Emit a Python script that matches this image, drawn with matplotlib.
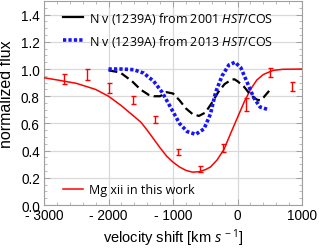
import matplotlib
matplotlib.use("Agg")
import matplotlib.pyplot as plt
from matplotlib.lines import Line2D
from matplotlib.ticker import FixedLocator, FixedFormatter, MultipleLocator

# -----------------------
# data
v_cos2001 = [-2000, -1820, -1635, -1506, -1377, -1300, -1200, -1100, -1000, -900,
             -800, -700, -600, -500, -400, -300, -200, -100, -50, 0, 100, 200, 300, 350, 400, 490]
f_cos2001 = [0.99, 0.975, 0.91, 0.85, 0.81, 0.80, 0.80, 0.83, 0.82, 0.77,
             0.71, 0.67, 0.655, 0.68, 0.75, 0.83, 0.89, 0.92, 0.925, 0.91, 0.87, 0.81, 0.775, 0.77, 0.79, 0.84]

v_cos2013 = [-2000, -1800, -1610, -1455, -1300, -1170, -1040, -900, -780, -650,
             -520, -420, -340, -240, -135, -40, 50, 150, 250, 350, 490]
f_cos2013 = [1.0, 1.0, 0.995, 0.97, 0.91, 0.83, 0.72, 0.60, 0.54, 0.52,
             0.56, 0.67, 0.83, 0.95, 1.03, 1.05, 1.01, 0.90, 0.79, 0.72, 0.70]

v_model = [-3050, -2800, -2500, -2200, -2000, -1800, -1650, -1500, -1400, -1300,
           -1200, -1100, -1000, -900, -800, -700, -600, -500, -420, -320,
           -210, -100, 0, 100, 200, 300, 400, 550, 700, 1000]
f_model = [0.94, 0.92, 0.895, 0.85, 0.80, 0.73, 0.67, 0.61, 0.55, 0.485,
           0.42, 0.36, 0.315, 0.28, 0.255, 0.242, 0.245, 0.26, 0.28, 0.33,
           0.41, 0.535, 0.645, 0.755, 0.85, 0.92, 0.96, 0.99, 0.998, 1.0]

v_mg = [-2697, -2334, -1988, -1626, -1273, -921, -575, -222, 135, 497, 849]
f_mg = [0.926, 0.963, 0.86, 0.77, 0.63, 0.39, 0.265, 0.42, 0.74, 0.975, 0.87]
e_mg = [0.035, 0.04, 0.035, 0.03, 0.025, 0.025, 0.02, 0.03, 0.045, 0.035, 0.035]

x_ticks = [-3000, -2000, -1000, 0, 1000]
x_ticklabels = ["- 3000", "- 2000", "- 1000", "0", "1000"]
y_ticks = [0.0, 0.2, 0.4, 0.6, 0.8, 1.0, 1.2, 1.4]

label_2001 = r"N v (1239A) from 2001 $\mathit{HST}$/COS"
label_2013 = r"N v (1239A) from 2013 $\mathit{HST}$/COS"
label_mg = "Mg xii in this work"
# -----------------------

narrow = ['Liberation Sans Narrow', 'Liberation Sans', 'DejaVu Sans']
plt.rcParams['font.family'] = narrow
plt.rcParams['mathtext.fontset'] = 'custom'
plt.rcParams['mathtext.rm'] = 'Open Sans'
plt.rcParams['mathtext.it'] = 'Open Sans:italic'

fig = plt.figure(figsize=(3.19, 2.51), dpi=100)
ax = fig.add_axes([0.138, 0.179, 0.809, 0.813])

frame_col = '#a0a0a0'
grid_col = '#d9d9d9'

ax.set_xlim(-3000, 1000)
ax.set_ylim(0.0, 1.5)

ax.xaxis.set_major_locator(FixedLocator(x_ticks))
ax.xaxis.set_major_formatter(FixedFormatter(x_ticklabels))
ax.xaxis.set_minor_locator(MultipleLocator(200))
ax.set_yticks(y_ticks)
ax.yaxis.set_minor_locator(MultipleLocator(0.05))
ax.yaxis.set_major_formatter(FixedFormatter([f"{t:.1f}" for t in y_ticks]))

ax.grid(True, which='major', color=grid_col, lw=0.9, zorder=0)
for s in ax.spines.values():
    s.set_color(frame_col)
    s.set_linewidth(0.8)
ax.tick_params(which='both', direction='in', top=True, right=True, color=frame_col,
               labelsize=9.8, pad=3)
ax.tick_params(which='major', length=4, width=0.7)
ax.tick_params(which='minor', length=2, width=0.5)
ax.tick_params(axis='x', pad=2)

ax.plot(v_model, f_model, color='#ff0000', lw=1.1, zorder=3)
ax.errorbar(v_mg, f_mg, yerr=e_mg, fmt='none', ecolor='#ff0000', elinewidth=1.0,
            capsize=1.8, capthick=1.0, zorder=4)
ax.plot(v_cos2001, f_cos2001, color='black', lw=1.6, dashes=(4, 2), zorder=5)
ax.plot(v_cos2013, f_cos2013, color='#1414ff', lw=2.6, dashes=(0.9, 0.6), zorder=6)

ax.set_xlabel(r"velocity shift [km $s^{\,-1}$]", fontsize=10.5, labelpad=3.5)
ax.set_ylabel("normalized flux", fontsize=11.5, labelpad=3,
              family=['Liberation Sans', 'DejaVu Sans'])
ax.yaxis.set_label_coords(-0.115, 0.55)

h1 = Line2D([], [], color='black', lw=1.6)
h2 = Line2D([], [], color='#1414ff', lw=2.6, dashes=(0.9, 0.6))
leg = ax.legend([h1, h2], [label_2001, label_2013], loc='upper left',
                bbox_to_anchor=(0.04, 1.0), frameon=False, handlelength=1.6,
                handletextpad=0.5, labelspacing=0.55, borderaxespad=0.3,
                prop={'family': 'Open Sans', 'size': 9})
ax.add_artist(leg)

h3 = Line2D([], [], color='#ff0000', lw=1.1)
ax.legend([h3], [label_mg], loc='lower left', bbox_to_anchor=(0.04, 0.0),
          frameon=False, handlelength=1.6, handletextpad=0.5, borderaxespad=0.3,
          prop={'family': 'Open Sans', 'size': 9})

fig.savefig("out.png", dpi=100)
